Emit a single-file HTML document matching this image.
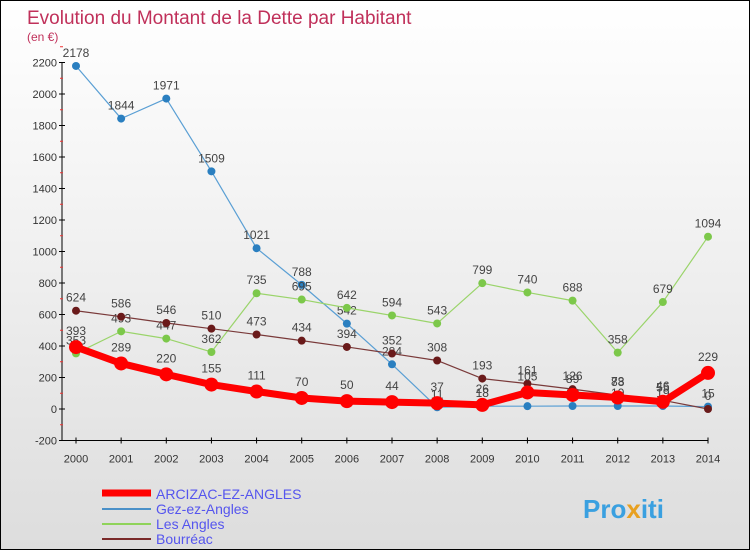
<!DOCTYPE html>
<html><head><meta charset="utf-8"><style>
body{margin:0}
#c{width:748px;height:548px;border:1px solid #000;position:relative;background:linear-gradient(#fff,#f2f2f2 40%,#ddd);font-family:"Liberation Sans",sans-serif;overflow:hidden}
</style></head><body>
<div id="c">
<svg id="s" width="748" height="548" xmlns="http://www.w3.org/2000/svg">
<text x="26" y="23" font-size="19" fill="#c0305a">Evolution du Montant de la Dette par Habitant</text>
<text x="26" y="40" font-size="12" fill="#c0305a">(en €)</text>
<g id="ax"></g><g id="pl"></g>
<g>
<line x1="101" y1="492" x2="150" y2="492" stroke="#f00" stroke-width="7"/>
<text x="155" y="498" font-size="14" fill="#5555ee">ARCIZAC-EZ-ANGLES</text>
<line x1="101" y1="508" x2="150" y2="508" stroke="#4a90c8" stroke-width="2"/>
<text x="155" y="513" font-size="14" fill="#5555ee">Gez-ez-Angles</text>
<line x1="101" y1="523" x2="150" y2="523" stroke="#8fd35a" stroke-width="2"/>
<text x="155" y="528" font-size="14" fill="#5555ee">Les Angles</text>
<line x1="101" y1="538" x2="150" y2="538" stroke="#7a2a2a" stroke-width="2"/>
<text x="155" y="543" font-size="14" fill="#5555ee">Bourréac</text>
</g>
<text x="582" y="517" font-size="26" font-weight="bold" fill="#3aa0e0">Pro<tspan fill="#e8a020">x</tspan>iti</text>
</svg>
</div>
<script>
const years=[2000,2001,2002,2003,2004,2005,2006,2007,2008,2009,2010,2011,2012,2013,2014];
const yTicks=[-200,0,200,400,600,800,1000,1200,1400,1600,1800,2000,2200];
const arcizac=[393,289,220,155,111,70,50,44,37,26,105,89,73,46,229];
const gez=[2178,1844,1971,1509,1021,788,542,284,11,18,18,19,19,19,15];
const lesAngles=[353,493,447,362,735,695,642,594,543,799,740,688,358,679,1094];
const bourreac=[624,586,546,510,473,434,394,352,308,193,161,126,88,55,0];
const NS="http://www.w3.org/2000/svg";
const X=i=>75+i*(707-75)/14;
const Y=v=>408-v*31.5/200;
function mk(t,a,p){const e=document.createElementNS(NS,t);for(const k in a)e.setAttribute(k,a[k]);p.appendChild(e);return e;}
const ax=document.getElementById('ax'),pl=document.getElementById('pl');
const yAxis=mk('line',{x1:61,y1:Y(2200),x2:61,y2:Y(-200),stroke:'#000'},ax);


const xAxis=mk('line',{x1:61,y1:Y(-200),x2:707,y2:Y(-200),stroke:'#000'},ax);


yTicks.forEach(v=>{
 mk('line',{x1:58,y1:Y(v),x2:64,y2:Y(v),stroke:'#000'},ax);
 mk('line',{x1:59,y1:Y(v+100),x2:62,y2:Y(v+100),stroke:'#e33'},ax);
 const t=mk('text',{x:56,y:Y(v)+4,'font-size':11,'text-anchor':'end',fill:'#333'},ax);
 t.textContent=v;
 
 
});
years.forEach((yr,i)=>{
 mk('line',{x1:X(i),y1:Y(-200)-3,x2:X(i),y2:Y(-200)+3,stroke:'#000'},ax);
 const t=mk('text',{x:X(i),y:Y(-200)+22,'font-size':11,'text-anchor':'middle',fill:'#333'},ax);
 t.textContent=yr;
 
 
});
function series(d,col,w,r,dot,name){
 const g=mk('g',{},pl);
 
 
 mk('polyline',{points:d.map((v,i)=>X(i)+','+Y(v)).join(' '),fill:'none',stroke:col,'stroke-width':w,'stroke-linejoin':'round'},g);
 d.forEach((v,i)=>{
  const c=mk('circle',{cx:X(i),cy:Y(v),r:r,fill:dot},g);
  
  
  const t=mk('text',{x:X(i),y:Y(v)-r-5,'font-size':12,'text-anchor':'middle',fill:'#444'},g);
  t.textContent=v;
  
  
 });
}
series(gez,'#5a9fd4',1.2,4,'#2a7fc0','gez');
series(lesAngles,'#9ad46a',1.2,4,'#7cc84a','les-angles');
series(bourreac,'#7a3a3a',1.2,4,'#6a1a1a','bourreac');
series(arcizac,'#f00',7,7,'#f00','arcizac');
</script>
</body></html>
